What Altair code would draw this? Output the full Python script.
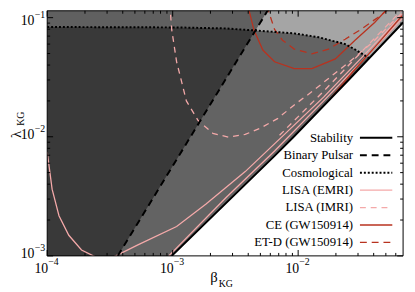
import altair as alt
import pandas as pd

W, H = 363, 250
X_DOMAIN = [1e-4, 0.0686]
Y_DOMAIN = [1e-3, 0.1142]

# ---- data ----
STAB_BETA = [9.82e-4, 6.49e-3, 9.14e-3, 0.025, 0.0686]
STAB_LAMBDA = [1e-3, 6.91e-3, 9.9e-3, 0.0297, 0.091]

PULSAR_BETA = [3.65e-4, 6.15e-3]
PULSAR_LAMBDA = [1e-3, 0.1304]

COSMO_BETA = [1e-4, 1.07e-3, 2.64e-3, 4.53e-3, 9.31e-3, 0.0146, 0.0237, 0.0289, 0.0365]
COSMO_LAMBDA = [0.0835, 0.0828, 0.0812, 0.0781, 0.0738, 0.0684, 0.060, 0.0535, 0.046]

EMRI1_BETA = [1e-4, 1.094e-4, 1.241e-4, 1.486e-4, 1.877e-4, 2.33e-4, 2.84e-4, 3.52e-4,
              5.23e-4, 1.075e-3, 1.844e-3, 3.786e-3, 7.78e-3, 0.01596, 0.0393, 0.0686]
EMRI1_LAMBDA = [7.46e-3, 3.63e-3, 2.175e-3, 1.489e-3, 1.12e-3, 1e-3, 9.1e-4, 1e-3,
                1.23e-3, 1.766e-3, 2.73e-3, 5.10e-3, 0.01048, 0.0215, 0.0577, 0.1079]
EMRI2_BETA = [9.31e-4, 2.64e-3, 6.49e-3, 0.01596, 0.0393, 0.0686]
EMRI2_LAMBDA = [1e-3, 3.06e-3, 7.6e-3, 0.0200, 0.0535, 0.1]

IMRI1_BETA = [9.475e-4, 9.82e-4, 1.075e-3, 1.286e-3, 1.596e-3, 2.091e-3, 2.788e-3, 3.786e-3,
              4.96e-3, 6.85e-3, 9.31e-3, 0.01334, 0.0191, 0.0274, 0.0393, 0.0562, 0.0686]
IMRI1_LAMBDA = [0.1304, 0.0796, 0.0426, 0.0200, 0.01367, 0.01069, 0.00991, 0.01048,
                0.01175, 0.0142, 0.0185, 0.0246, 0.0333, 0.0451, 0.0623, 0.0910, 0.1120]
IMRI2_BETA = [7.11e-3, 0.01596, 0.0393, 0.0686]
IMRI2_LAMBDA = [0.01029, 0.0241, 0.0647, 0.1186]

CE1_BETA = [3.925e-3, 4.45e-3, 5.23e-3, 6.49e-3, 9.31e-3, 0.01287, 0.0198, 0.0284, 0.0407, 0.0523, 0.0562]
CE1_LAMBDA = [0.1329, 0.0782, 0.0535, 0.0426, 0.0373, 0.0373, 0.0451, 0.0647, 0.0910, 0.1209, 0.1329]
CE2_BETA = [0.01844, 0.0274, 0.0429, 0.0673]
CE2_LAMBDA = [0.0215, 0.0353, 0.0600, 0.1038]

ETD_BETA = [5.62e-3, 6.49e-3, 7.50e-3, 9.31e-3, 0.01287, 0.01747, 0.0237, 0.0316, 0.0429, 0.0542]
ETD_LAMBDA = [0.1256, 0.0796, 0.0647, 0.0545, 0.0496, 0.0545, 0.0659, 0.0796, 0.1, 0.1209]

XTICK_MAJOR = [1e-4, 1e-3, 1e-2]
XTICK_MINOR = [2e-4, 3e-4, 4e-4, 5e-4, 6e-4, 7e-4, 8e-4, 9e-4,
               2e-3, 3e-3, 4e-3, 5e-3, 6e-3, 7e-3, 8e-3, 9e-3,
               2e-2, 3e-2, 4e-2, 5e-2, 6e-2]
XTICK_EXP = ["−4", "−3", "−2"]
YTICK_MAJOR = [1e-3, 1e-2, 1e-1]
YTICK_MINOR = [2e-3, 3e-3, 4e-3, 5e-3, 6e-3, 7e-3, 8e-3, 9e-3,
               2e-2, 3e-2, 4e-2, 5e-2, 6e-2, 7e-2, 8e-2, 9e-2]
YTICK_EXP = ["−3", "−2", "−1"]

LEGEND_LABELS = ["Stability", "Binary Pulsar", "Cosmological", "LISA (EMRI)",
                 "LISA (IMRI)", "CE (GW150914)", "ET-D (GW150914)"]

PINK = "#f4a9a9"
RED = "#b8321f"
FONT = "Liberation Serif"

xs = alt.Scale(type="log", domain=X_DOMAIN, nice=False)
ys = alt.Scale(type="log", domain=Y_DOMAIN, nice=False)


def df(b, l):
    return pd.DataFrame({"beta": b, "lam": l, "i": list(range(len(b)))})


def X():
    return alt.X("beta:Q", scale=xs, axis=None)


def Y():
    return alt.Y("lam:Q", scale=ys, axis=None, stack=False)


one = pd.DataFrame({"a": [0]})
layers = []

# background (light gray region)
layers.append(alt.Chart(one).mark_rect(color="#a5a5a5").encode(
    x=alt.value(0), x2=alt.value(W), y=alt.value(0), y2=alt.value(H)))
# binary pulsar excluded region (left of the line)
layers.append(alt.Chart(df(PULSAR_BETA, PULSAR_LAMBDA)).mark_area(
    orient="horizontal", color="black", opacity=0.42, clip=True).encode(
    x=alt.X("beta:Q", scale=xs, axis=None, stack=False),
    x2=alt.datum(X_DOMAIN[0]),
    y=alt.Y("lam:Q", scale=ys, axis=None)))
# cosmological excluded region (below the curve)
layers.append(alt.Chart(df(COSMO_BETA, COSMO_LAMBDA)).mark_area(
    color="black", opacity=0.4, clip=True).encode(
    x=X(), y=Y(), y2=alt.datum(Y_DOMAIN[0])))
# unstable region (white)
layers.append(alt.Chart(df(STAB_BETA, STAB_LAMBDA)).mark_area(
    color="white", opacity=1, clip=True).encode(
    x=X(), y=Y(), y2=alt.datum(Y_DOMAIN[0])))


def line(b, l, color, width, dash=None):
    kw = dict(color=color, strokeWidth=width, clip=True)
    if dash:
        kw["strokeDash"] = dash
    return alt.Chart(df(b, l)).mark_line(**kw).encode(x=X(), y=Y(), order="i:Q")


layers += [
    line(EMRI1_BETA, EMRI1_LAMBDA, PINK, 1.3),
    line(EMRI2_BETA, EMRI2_LAMBDA, PINK, 1.3),
    line(IMRI1_BETA, IMRI1_LAMBDA, PINK, 1.3, [6, 5]),
    line(IMRI2_BETA, IMRI2_LAMBDA, PINK, 1.3, [6, 5]),
    line(CE1_BETA, CE1_LAMBDA, RED, 1.3),
    line(CE2_BETA, CE2_LAMBDA, RED, 1.3),
    line(ETD_BETA, ETD_LAMBDA, RED, 1.3, [7, 5]),
    line(COSMO_BETA, COSMO_LAMBDA, "black", 2, [2, 2]),
    line(PULSAR_BETA, PULSAR_LAMBDA, "black", 2, [7, 5]),
    line(STAB_BETA, STAB_LAMBDA, "black", 2),
]


def xticks(vals, y0, y1):
    return alt.Chart(pd.DataFrame({"v": vals})).mark_rule(color="black", strokeWidth=1).encode(
        x=alt.X("v:Q", scale=xs, axis=None), y=alt.value(y0), y2=alt.value(y1))


def yticks(vals, x0, x1):
    return alt.Chart(pd.DataFrame({"v": vals})).mark_rule(color="black", strokeWidth=1).encode(
        y=alt.Y("v:Q", scale=ys, axis=None), x=alt.value(x0), x2=alt.value(x1))


layers += [
    xticks(XTICK_MAJOR, H, H - 6), xticks(XTICK_MINOR, H, H - 3),
    xticks(XTICK_MAJOR, 0, 6), xticks(XTICK_MINOR, 0, 3),
    yticks(YTICK_MAJOR, 0, 6), yticks(YTICK_MINOR, 0, 3),
    yticks(YTICK_MAJOR, W, W - 6), yticks(YTICK_MINOR, W, W - 3),
]

# frame
layers.append(alt.Chart(one).mark_rect(fillOpacity=0, stroke="black", strokeWidth=1).encode(
    x=alt.value(0), x2=alt.value(W), y=alt.value(0), y2=alt.value(H)))

# tick labels
xl = pd.DataFrame({"v": XTICK_MAJOR, "e": XTICK_EXP})
layers.append(alt.Chart(xl).mark_text(text="10", align="right", baseline="alphabetic", dx=1,
                                      font=FONT, fontSize=14, color="black").encode(
    x=alt.X("v:Q", scale=xs, axis=None), y=alt.value(H + 17)))
layers.append(alt.Chart(xl).mark_text(align="left", baseline="alphabetic", dx=1,
                                      font=FONT, fontSize=10, color="black").encode(
    x=alt.X("v:Q", scale=xs, axis=None), y=alt.value(H + 9), text="e:N"))
yl = pd.DataFrame({"v": YTICK_MAJOR, "e": YTICK_EXP})
yl_low = yl[yl["v"] < 0.05]
yl_top = yl[yl["v"] > 0.05]
for sub, shift in ((yl_low, 0), (yl_top, 5)):
    layers.append(alt.Chart(sub).mark_text(text="10", align="right", baseline="alphabetic", dy=2 + shift,
                                           font=FONT, fontSize=14, color="black").encode(
        y=alt.Y("v:Q", scale=ys, axis=None), x=alt.value(-13)))
    layers.append(alt.Chart(sub).mark_text(align="right", baseline="alphabetic", dy=-5 + shift,
                                           font=FONT, fontSize=10, color="black").encode(
        y=alt.Y("v:Q", scale=ys, axis=None), x=alt.value(-2), text="e:N"))

# axis titles
layers.append(alt.Chart(one).mark_text(text="β", align="center", baseline="alphabetic",
                                       font=FONT, fontSize=15, color="black").encode(
    x=alt.value(170), y=alt.value(H + 27)))
layers.append(alt.Chart(one).mark_text(text="KG", align="left", baseline="alphabetic",
                                       font=FONT, fontSize=10, color="black").encode(
    x=alt.value(175), y=alt.value(H + 32)))
layers.append(alt.Chart(one).mark_text(text="λ", align="center", baseline="alphabetic",
                                       font=FONT, fontSize=15, color="black").encode(
    x=alt.value(-27), y=alt.value(126), angle=alt.value(270)))
layers.append(alt.Chart(one).mark_text(text="KG", align="center", baseline="alphabetic",
                                       font=FONT, fontSize=10, color="black").encode(
    x=alt.value(-24), y=alt.value(110), angle=alt.value(270)))

# legend
styles = [("black", 2, None), ("black", 2, [7, 5]), ("black", 2, [2, 2]),
          (PINK, 1.3, None), (PINK, 1.3, [6, 5]), (RED, 1.3, None), (RED, 1.3, [7, 5])]
for i, (lab, (c, w, d)) in enumerate(zip(LEGEND_LABELS, styles)):
    yy = 129.5 + 17.8 * i
    layers.append(alt.Chart(one).mark_text(text=lab, align="right", baseline="middle",
                                           font=FONT, fontSize=13, color="black").encode(
        x=alt.value(312), y=alt.value(yy)))
    kw = dict(color=c, strokeWidth=w)
    if d:
        kw["strokeDash"] = d
    layers.append(alt.Chart(one).mark_rule(**kw).encode(
        x=alt.value(319), x2=alt.value(352), y=alt.value(yy)))

chart = alt.layer(*layers).properties(
    width=W, height=H,
    padding={"left": 40, "top": 0, "right": 4, "bottom": 34},
    autosize=alt.AutoSizeParams(type="none"),
).configure_view(strokeWidth=0)

chart.save("out.html", embed_options={"renderer": "svg", "actions": False})
